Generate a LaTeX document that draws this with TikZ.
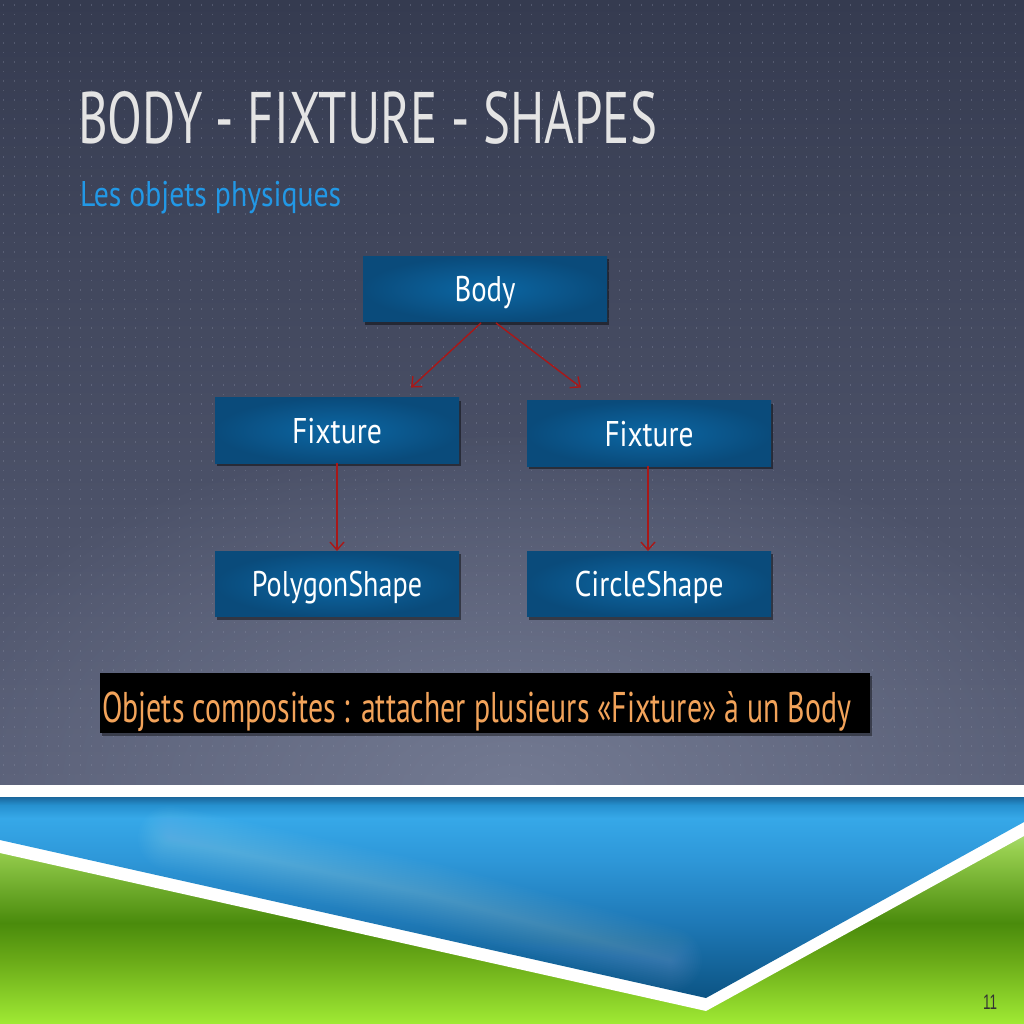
\documentclass[tikz,border=0pt]{standalone}
\usepackage{fontspec}
\setmainfont{PT Sans}
\newfontfamily\numfont{Liberation Sans}
\usepackage{graphicx}
\usetikzlibrary{calc,shadows,fadings,arrows.meta}

% palette
\definecolor{bgtop}{HTML}{353B50}
\definecolor{bgbot}{HTML}{585E76}
\definecolor{bgglow}{HTML}{737A92}
\definecolor{dotc}{HTML}{8A90A6}
\definecolor{boxin}{HTML}{0C67A4}
\definecolor{boxout}{HTML}{0A4B7B}
\definecolor{arrowred}{HTML}{A81818}
\definecolor{titlec}{HTML}{E4E4E4}
\definecolor{subc}{HTML}{2298E6}
\definecolor{bannertxt}{HTML}{F2A35A}
\definecolor{numc}{HTML}{333333}
% sea band
\definecolor{seaE}{HTML}{1A679C}
\definecolor{seaT}{HTML}{2690CF}
\definecolor{seaA}{HTML}{36A8E8}
\definecolor{seaB}{HTML}{2E97D8}
\definecolor{seaC}{HTML}{1F7AB8}
\definecolor{seaD}{HTML}{0C5484}
% grass band
\definecolor{grA}{HTML}{B6E48A}
\definecolor{grB}{HTML}{96CE4E}
\definecolor{grC}{HTML}{4A8B0C}
\definecolor{grD}{HTML}{6AAA18}
\definecolor{grE}{HTML}{A0EA34}

\pgfdeclareverticalshading{seashade}{100bp}{color(0bp)=(seaD); color(25bp)=(seaD); color(44.4bp)=(seaC); color(59.3bp)=(seaB); color(69.8bp)=(seaA); color(73bp)=(seaT); color(75bp)=(seaE); color(100bp)=(seaE)}
\pgfdeclareverticalshading{grassshade}{100bp}{color(0bp)=(grE); color(25bp)=(grE); color(40.8bp)=(grD); color(50bp)=(grC); color(68bp)=(grB); color(75bp)=(grA); color(100bp)=(grA)}
\tikzfading[name=glowfade, inner color=transparent!0, outer color=transparent!100]

% stretch a text to a given width, keeping its height
\newcommand\fitw[2]{\resizebox{#1}{\height}{#2}}

\tikzset{
  box/.style={shading=radial, inner color=boxin, outer color=boxout,
    minimum width=244pt, minimum height=65.5pt, inner sep=0pt,
    text=white, font=\fontsize{35.7}{40}\selectfont,
    text height=25pt, text depth=0pt,
    drop shadow={shadow xshift=2pt, shadow yshift=-3pt, opacity=0.45, fill=black}},
  link/.style={draw=arrowred, line width=1.4pt,
    -{Straight Barb[length=8pt,width=14pt,line width=1.4pt]}},
  dotrow/.style={draw=dotc, opacity=0.35, line width=1.8pt, dash pattern=on 1.1pt off 9.9pt}
}

\begin{document}
\begin{tikzpicture}[x=1pt,y=-1pt]
\useasboundingbox (0,0) rectangle (1024,1024);

% slate backdrop with a soft glow towards the lower middle
\shade[top color=bgtop, bottom color=bgbot] (0,0) rectangle (1024,785);
\begin{scope}
  \clip (0,0) rectangle (1024,785);
  \fill[bgglow, path fading=glowfade] (512,790) ellipse (620pt and 360pt);
  \foreach \yy in {5,14.5,...,782} \draw[dotrow] (3,\yy) -- (1024,\yy);
\end{scope}

% bottom decoration: grass, white chevron, sea
\shade[shading=grassshade] (0,822) rectangle (1024,1024);
\fill[white] (0,785) -- (1024,785) -- (1024,836) -- (706,1011) -- (0,853) -- cycle;
\shade[shading=seashade] (0,797) -- (1024,797) -- (1024,822) -- (706,998) -- (0,840) -- cycle;
\begin{scope}
  \clip (0,797) -- (1024,797) -- (1024,822) -- (706,998) -- (0,840) -- cycle;
  % soft highlight streak, built from many faint layers
  \foreach \ww in {4,8,...,64}
    \draw[white, line width=\ww pt, opacity=0.012, line cap=round, line join=round]
      (170,838) -- (430,895) -- (670,960);
\end{scope}
\fill[white] (0,785) rectangle (1024,797);

% heading
\node[anchor=base west, inner sep=0pt, text=titlec, font=\fontsize{73}{80}\selectfont] (title) at (78,144)
  {\fitw{579pt}{BODY - FIXTURE - SHAPES}};
\node[anchor=base west, inner sep=0pt, text=subc, font=\fontsize{35.7}{40}\selectfont] (subtitle) at (80,207)
  {\fitw{261pt}{Les objets physiques}};

% hierarchy boxes
\node[box] (body) at (485,289) {\fitw{61pt}{Body}};
\node[box] (fixL) at (337,430.5) {\fitw{90pt}{Fixture}};
\node[box] (fixR) at (649,433.5) {\fitw{89pt}{Fixture}};
\node[box] (poly) at (337,584) {\fitw{170pt}{PolygonShape}};
\node[box] (circ) at (649,584) {\fitw{149pt}{CircleShape}};

% connectors
\draw[link] ($(body.south)+(-4,1)$) -- ($(fixL.north)+(74,-10)$);
\draw[link] ($(body.south)+(11,1)$) -- ($(fixR.north)+(-68,-13)$);
\draw[link] (fixL.south) -- (poly.north);
\draw[link] ($(fixR.south)+(-1,0)$) -- ($(circ.north)+(-1,0)$);

% note banner
\node[fill=black, minimum width=770pt, minimum height=60pt, inner sep=0pt,
  drop shadow={shadow xshift=2pt, shadow yshift=-3pt, opacity=0.4, fill=black}] (banner) at (485,703) {};
\node[anchor=base west, inner sep=0pt, text=bannertxt, font=\fontsize{43}{48}\selectfont] (note) at (102,722)
  {\fitw{749pt}{Objets composites : attacher plusieurs «Fixture» à un Body}};

% slide number
\node[anchor=base west, inner sep=0pt, text=numc, font=\numfont\fontsize{21}{24}\selectfont] (pagenum) at (983,1009)
  {\fitw{14pt}{11}};
\end{tikzpicture}
\end{document}
